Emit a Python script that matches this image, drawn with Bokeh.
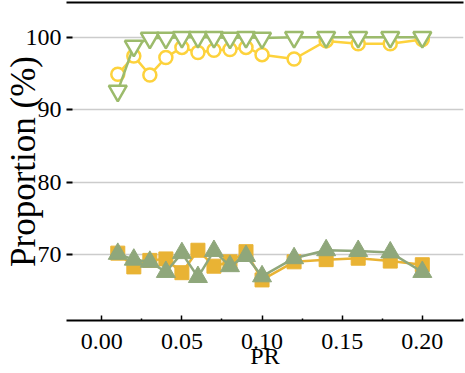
from bokeh.plotting import figure
from bokeh.models import Range1d, FixedTicker, PrintfTickFormatter, LinearAxis
from bokeh.embed import file_html
from bokeh.resources import INLINE

pr = [0.01, 0.02, 0.03, 0.04, 0.05, 0.06, 0.07, 0.08, 0.09, 0.10, 0.12, 0.14, 0.16, 0.18, 0.20]
circle_vals = [94.9, 97.4, 94.8, 97.2, 98.6, 97.9, 98.2, 98.3, 98.6, 97.6, 97.0, 99.5, 99.1, 99.1, 99.7]
tri_down_vals = [92.6, 98.8, 99.9, 99.9, 100.0, 100.0, 100.0, 99.9, 100.0, 99.9, 100.0, 100.0, 100.0, 100.0, 100.0]
square_vals = [70.2, 68.3, 69.2, 69.4, 67.5, 70.6, 68.4, 69.0, 70.4, 66.5, 69.0, 69.3, 69.5, 69.1, 68.6]
tri_up_vals = [70.1, 69.3, 69.0, 67.6, 70.2, 66.9, 70.5, 68.4, 69.8, 67.0, 69.5, 70.6, 70.5, 70.3, 67.6]

x_ticks = [0.0, 0.05, 0.10, 0.15, 0.20]
x_minor_ticks = [0.025, 0.075, 0.125, 0.175, 0.225]
y_ticks = [70, 80, 90, 100]
x_label = "PR"
y_label = "Proportion (%)"

YELLOW = "#FDD23C"
GREEN = "#9CBB6C"
ORANGE = "#E9B334"
SAGE = "#8FA77B"
FONT = "Liberation Serif"

p = figure(width=465, height=373, output_backend="svg", toolbar_location=None,
           x_range=Range1d(-0.022, 0.2257), y_range=Range1d(60.9, 104.8),
           min_border_top=2, min_border_right=2, min_border_left=64, min_border_bottom=53)
p.outline_line_color = None
p.background_fill_color = "white"

# grids
p.xgrid.visible = False
p.ygrid.ticker = FixedTicker(ticks=y_ticks)
p.ygrid.grid_line_color = "#CCCCCC"
p.ygrid.grid_line_width = 1.5

# x axis
xa = p.xaxis[0]
xa.ticker = FixedTicker(ticks=x_ticks, minor_ticks=x_minor_ticks)
xa.formatter = PrintfTickFormatter(format="%.2f")
xa.axis_line_width = 2
xa.axis_line_color = "black"
xa.major_tick_in = 5
xa.major_tick_out = 0
xa.major_tick_line_width = 1.5
xa.minor_tick_in = 2
xa.minor_tick_out = 0
xa.minor_tick_line_width = 1.5
xa.major_label_text_font = FONT
xa.major_label_text_font_size = "24px"
xa.major_label_text_color = "black"
xa.major_label_standoff = 13
xa.axis_label = x_label
xa.axis_label_text_font = FONT
xa.axis_label_text_font_size = "24px"
xa.axis_label_text_font_style = "normal"
xa.axis_label_text_color = "black"
xa.axis_label_standoff = -9

# y axis
ya = p.yaxis[0]
ya.ticker = FixedTicker(ticks=y_ticks)
ya.axis_line_color = None
ya.major_tick_in = 6
ya.major_tick_out = 0
ya.major_tick_line_width = 2
ya.minor_tick_line_color = None
ya.major_label_text_font = FONT
ya.major_label_text_font_size = "24px"
ya.major_label_text_color = "black"
ya.major_label_standoff = 5
ya.axis_label = y_label
ya.axis_label_text_font = FONT
ya.axis_label_text_font_size = "35px"
ya.axis_label_text_font_style = "normal"
ya.axis_label_text_color = "black"
ya.axis_label_standoff = -20

# top border line
top = LinearAxis(axis_line_width=2, axis_line_color="black",
                 major_tick_line_color=None, minor_tick_line_color=None,
                 major_label_text_font_size="0px", major_label_standoff=0)
top.ticker = FixedTicker(ticks=[])
p.add_layout(top, "above")

# upper series
p.line(pr, circle_vals, line_color=YELLOW, line_width=2.5)
p.scatter(pr, circle_vals, marker="circle", size=13, fill_color="white",
          line_color=YELLOW, line_width=2.5)
p.line(pr, tri_down_vals, line_color=GREEN, line_width=2.5)
p.scatter(pr, tri_down_vals, marker="inverted_triangle", size=18, fill_color="white",
          line_color=GREEN, line_width=2.5)

# lower series
p.line(pr, square_vals, line_color=ORANGE, line_width=2.5)
p.scatter(pr, square_vals, marker="square", size=14, fill_color=ORANGE,
          line_color=ORANGE, line_width=1)
p.line(pr, tri_up_vals, line_color=SAGE, line_width=2.5)
p.scatter(pr, tri_up_vals, marker="triangle", size=19, fill_color=SAGE,
          line_color=SAGE, line_width=1)

open("out.html", "w").write(file_html(p, INLINE))
